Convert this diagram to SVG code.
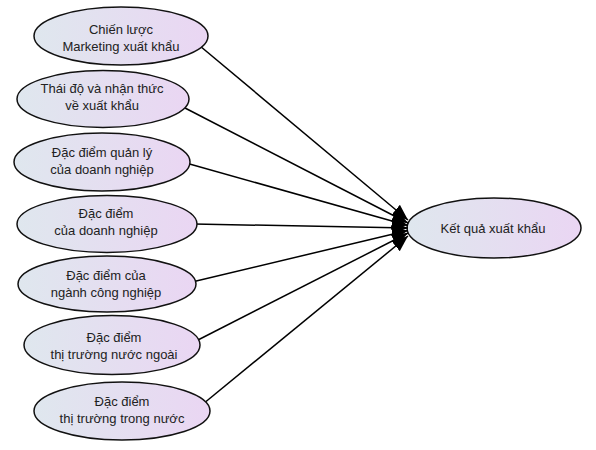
<svg xmlns="http://www.w3.org/2000/svg" width="596" height="450" viewBox="0 0 596 450">
<defs>
<linearGradient id="fill" x1="0" y1="0" x2="1" y2="0">
<stop offset="0" stop-color="#dfe7ee"/>
<stop offset="1" stop-color="#ead6f3"/>
</linearGradient>
<marker id="arr" markerUnits="userSpaceOnUse" markerWidth="17" markerHeight="14" refX="16" refY="6.5" orient="auto">
<path d="M0,0 L16,6.5 L0,13 z" fill="#000"/>
</marker>
<style>
.node ellipse{fill:url(#fill);stroke:#111;stroke-width:1.5}
.node text{font-family:"Liberation Sans",Arial,sans-serif;font-size:13px;fill:#222;text-anchor:middle}
#connectors path{stroke:#000;stroke-width:1.5;fill:none;marker-end:url(#arr)}
</style>
</defs>
<rect width="596" height="450" fill="#fff"/>
<g id="target" class="node">
<ellipse cx="494" cy="228" rx="87" ry="30"/>
<text x="493" y="233">Kết quả xuất khẩu</text>
</g>
<g id="connectors">
<path d="M200,46 L408,220"/>
<path d="M185,108 L408,223"/>
<path d="M186,163 L408,225.5"/>
<path d="M194,224 L408,228"/>
<path d="M192,282 L408,230.5"/>
<path d="M196,341 L408,233"/>
<path d="M203,404 L408,236"/>
</g>
<g id="n1" class="node">
<ellipse cx="121" cy="36" rx="87" ry="29"/>
<text x="121" y="34">Chiến lược</text>
<text x="121" y="51">Marketing xuất khẩu</text>
</g>
<g id="n2" class="node">
<ellipse cx="103" cy="99" rx="86" ry="28.5"/>
<text x="102" y="93">Thái độ và nhận thức</text>
<text x="102" y="110">về xuất khẩu</text>
</g>
<g id="n3" class="node">
<ellipse cx="102" cy="162" rx="88" ry="29"/>
<text x="102" y="157">Đặc điểm quản lý</text>
<text x="102" y="174">của doanh nghiệp</text>
</g>
<g id="n4" class="node">
<ellipse cx="107" cy="224" rx="90" ry="28.5"/>
<text x="106" y="218">Đặc điểm</text>
<text x="106" y="235">của doanh nghiệp</text>
</g>
<g id="n5" class="node">
<ellipse cx="107" cy="284" rx="89" ry="28"/>
<text x="106" y="280">Đặc điểm của</text>
<text x="106" y="297">ngành công nghiệp</text>
</g>
<g id="n6" class="node">
<ellipse cx="112" cy="345" rx="88" ry="29.5"/>
<text x="114" y="342">Đặc điểm</text>
<text x="114" y="359">thị trường nước ngoài</text>
</g>
<g id="n7" class="node">
<ellipse cx="122" cy="411" rx="88" ry="29"/>
<text x="122" y="406">Đặc điểm</text>
<text x="122" y="423">thị trường trong nước</text>
</g>
</svg>
